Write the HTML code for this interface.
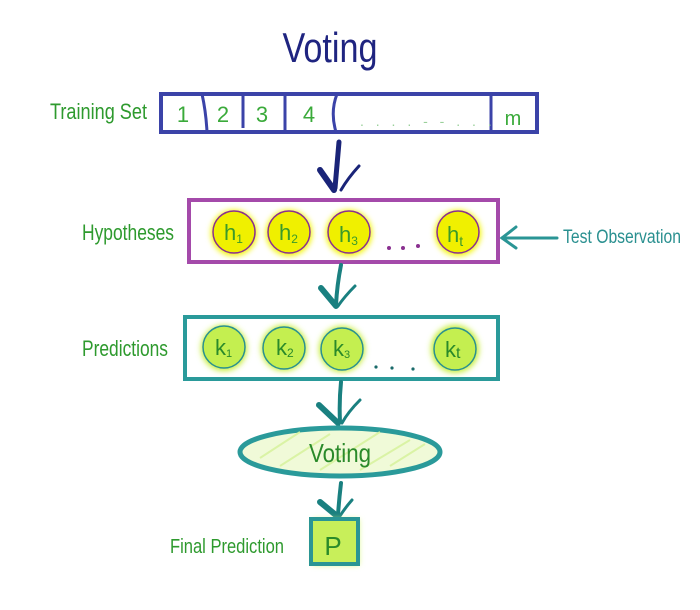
<!DOCTYPE html>
<html><head><meta charset="utf-8"><style>
html,body{margin:0;padding:0;background:#fff;width:700px;height:610px;overflow:hidden}
text{font-family:"Liberation Sans Narrow","Liberation Sans",sans-serif}
</style></head><body>
<svg width="700" height="610" viewBox="0 0 700 610" xmlns="http://www.w3.org/2000/svg">
<defs>
<filter id="b" x="-50%" y="-50%" width="200%" height="200%"><feGaussianBlur stdDeviation="3"/></filter>
</defs>
<!-- title -->
<text x="330" y="62" font-size="42" fill="#1f2480" text-anchor="middle" textLength="95" lengthAdjust="spacingAndGlyphs">Voting</text>

<!-- training set -->
<text x="50" y="119" font-size="22" fill="#2e9a2e" textLength="97" lengthAdjust="spacingAndGlyphs">Training Set</text>
<rect x="161" y="94" width="376" height="38" fill="#fff" stroke="#3b43a8" stroke-width="4"/>
<g stroke="#3b43a8" stroke-width="3" fill="none">
<path d="M202 94 Q206 112 207 132"/><path d="M243 94 L243 128"/><path d="M285 94 L285 134"/><path d="M337 94 Q330 112 336 132"/><path d="M491 94 L491 134"/>
</g>
<g font-size="22" fill="#3aaa3a" text-anchor="middle">
<text x="183" y="122">1</text><text x="223" y="122">2</text><text x="262" y="122">3</text><text x="309" y="122">4</text><text x="513" y="125" font-size="20">m</text>
</g>
<text x="360" y="126" font-size="14" fill="#9ad09a" letter-spacing="4">. . . . - - . . .</text>

<!-- arrow 1 -->
<g stroke="#1a2478" fill="none" stroke-linecap="round">
<path d="M339 142 Q337 165 335 188" stroke-width="5"/>
<path d="M320 170 L334 190" stroke-width="6"/>
<path d="M359 166 Q348 178 341 190" stroke-width="3"/>
</g>

<!-- hypotheses -->
<text x="82" y="240" font-size="22" fill="#2e9a2e" textLength="92" lengthAdjust="spacingAndGlyphs">Hypotheses</text>
<rect x="189" y="200" width="309" height="62" fill="#fff" stroke="#a44aaa" stroke-width="4"/>
<g fill="#f3f500" filter="url(#b)">
<circle cx="234" cy="233" r="23"/><circle cx="289" cy="233" r="23"/><circle cx="349" cy="233" r="23"/><circle cx="458" cy="233" r="23"/>
</g>
<g fill="#f0f000" stroke="#8a3090" stroke-width="1.5">
<circle cx="234" cy="232" r="21"/><circle cx="289" cy="232" r="21"/><circle cx="349" cy="232" r="21"/><circle cx="458" cy="232" r="21"/>
</g>
<g font-size="22" fill="#3a9a2a">
<text x="224" y="240">h<tspan font-size="12" dy="3">1</tspan></text>
<text x="279" y="240">h<tspan font-size="12" dy="3">2</tspan></text>
<text x="339" y="242">h<tspan font-size="12" dy="3">3</tspan></text>
<text x="447" y="242">h<tspan font-size="14" dy="4">t</tspan></text>
</g>
<g fill="#8a3090"><circle cx="389" cy="248" r="2"/><circle cx="403" cy="248" r="2"/><circle cx="418" cy="246" r="2"/></g>
<text x="563" y="243" font-size="19" fill="#2a9090" textLength="118" lengthAdjust="spacingAndGlyphs">Test Observation</text>
<g stroke="#2a9595" stroke-width="3" fill="none" stroke-linecap="round">
<path d="M557 238 L502 238"/><path d="M516 227 L502 238 L516 248"/>
</g>

<!-- arrow 2 -->
<g stroke="#1a8080" fill="none" stroke-linecap="round">
<path d="M341 265 Q337 285 336 305" stroke-width="4"/>
<path d="M321 288 L336 306" stroke-width="6"/>
<path d="M355 286 Q345 296 338 306" stroke-width="3"/>
</g>

<!-- predictions -->
<text x="82" y="356" font-size="22" fill="#2e9a2e" textLength="86" lengthAdjust="spacingAndGlyphs">Predictions</text>
<rect x="185" y="317" width="313" height="62" fill="#fff" stroke="#2a9a9a" stroke-width="4"/>
<g fill="#c6ee3a" filter="url(#b)">
<circle cx="224" cy="348" r="23"/><circle cx="284" cy="348" r="23"/><circle cx="342" cy="349" r="23"/><circle cx="455" cy="349" r="24"/>
</g>
<g fill="#c4ef50" stroke="#2a9090" stroke-width="1.5">
<circle cx="224" cy="347" r="21"/><circle cx="284" cy="348" r="21"/><circle cx="342" cy="349" r="21"/><circle cx="455" cy="349" r="21"/>
</g>
<g font-size="22" fill="#2a8a2a">
<text x="215" y="355">k<tspan font-size="11" dy="2">1</tspan></text>
<text x="276" y="355">k<tspan font-size="12" dy="2">2</tspan></text>
<text x="333" y="356">k<tspan font-size="11" dy="2">3</tspan></text>
<text x="445" y="357">k<tspan font-size="16" dy="1">t</tspan></text>
</g>
<g fill="#1a6a6a"><circle cx="376" cy="367" r="1.6"/><circle cx="392" cy="368" r="1.6"/><circle cx="413" cy="369" r="1.6"/></g>

<!-- arrow 3 -->
<g stroke="#1a8080" fill="none" stroke-linecap="round">
<path d="M341 382 Q339 402 340 422" stroke-width="4"/>
<path d="M319 405 L338 423" stroke-width="6"/>
<path d="M360 400 Q348 412 342 423" stroke-width="3"/>
</g>

<!-- voting ellipse -->
<ellipse cx="340" cy="452" rx="100" ry="24" fill="#f0fad8" stroke="#2a9a9a" stroke-width="5"/>
<g stroke="#d8f3a0" stroke-width="2" opacity="0.9">
<path d="M260 458 L300 432"/><path d="M280 466 L330 434"/><path d="M320 470 L380 432"/><path d="M360 470 L410 440"/><path d="M390 466 L425 444"/>
</g>
<text x="340" y="462" font-size="26" fill="#2a8a2a" text-anchor="middle" textLength="62" lengthAdjust="spacingAndGlyphs">Voting</text>

<!-- arrow 4 -->
<g stroke="#1a8080" fill="none" stroke-linecap="round">
<path d="M341 483 Q339 500 338 515" stroke-width="4"/>
<path d="M320 502 L337 516" stroke-width="6"/>
<path d="M352 500 Q345 508 340 516" stroke-width="3"/>
</g>

<!-- final -->
<text x="170" y="553" font-size="20" fill="#2e9a2e" textLength="114" lengthAdjust="spacingAndGlyphs">Final Prediction</text>
<rect x="313" y="519" width="46" height="46" fill="#d6f57a" filter="url(#b)"/>
<rect x="311" y="519" width="47" height="45" fill="#c8ef5a" stroke="#2a9595" stroke-width="4"/>
<text x="333" y="555" font-size="26" fill="#2a8a2a" text-anchor="middle">P</text>
</svg>
</body></html>
